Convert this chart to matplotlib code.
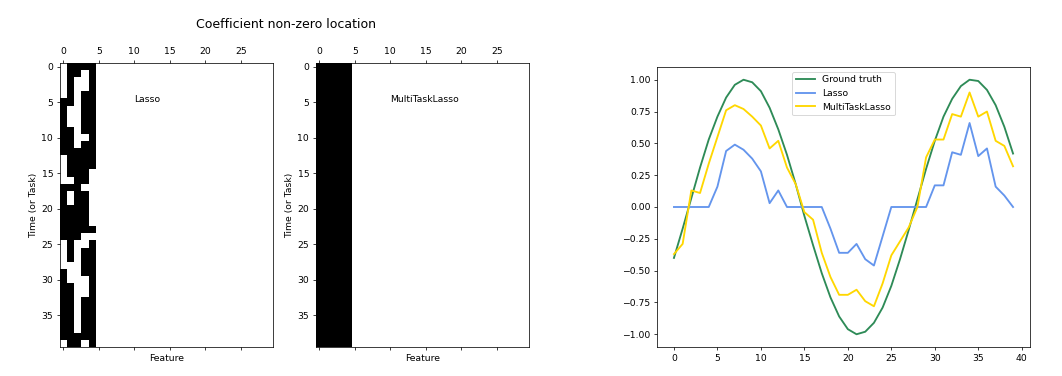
import numpy as np
import matplotlib
matplotlib.use("Agg")
import matplotlib.pyplot as plt

# ---------------- data ----------------
n_tasks = 40
n_features = 30

# non-zero pattern of the first 5 features (rows = tasks), 1 = non-zero
lasso_rows = [
    "01111", "01101", "01001", "01001", "01011",
    "11011", "10011", "10011", "10011", "11011",
    "11001", "11011", "11111", "01111", "01111",
    "01110", "00110", "11100", "10110", "10110",
    "11110", "11110", "11110", "11111", "11100",
    "01001", "01011", "01011", "00011", "10011",
    "10001", "11001", "11001", "11011", "11011",
    "11011", "11011", "11011", "11111", "01101",
]
mtl_rows = ["11111"] * 40

time_idx = list(range(40))
ground_truth = [-0.40, -0.17, 0.07, 0.31, 0.53, 0.71, 0.86, 0.96, 1.00, 0.98,
                0.91, 0.78, 0.61, 0.41, 0.18, -0.07, -0.30, -0.52, -0.71, -0.86,
                -0.96, -1.00, -0.98, -0.91, -0.79, -0.62, -0.41, -0.18, 0.06, 0.30,
                0.52, 0.71, 0.85, 0.95, 1.00, 0.99, 0.92, 0.80, 0.63, 0.42]
lasso_coef = [0.0, 0.0, 0.0, 0.0, 0.0, 0.16, 0.44, 0.49, 0.45, 0.38,
              0.28, 0.03, 0.13, 0.0, 0.0, 0.0, 0.0, 0.0, -0.17, -0.36,
              -0.36, -0.29, -0.41, -0.46, -0.23, 0.0, 0.0, 0.0, 0.0, 0.0,
              0.17, 0.17, 0.43, 0.41, 0.66, 0.40, 0.46, 0.16, 0.09, 0.0]
mtl_coef = [-0.37, -0.29, 0.13, 0.11, 0.34, 0.55, 0.76, 0.80, 0.77, 0.71,
            0.64, 0.46, 0.52, 0.31, 0.18, -0.04, -0.10, -0.36, -0.55, -0.69,
            -0.69, -0.65, -0.74, -0.78, -0.60, -0.38, -0.27, -0.16, 0.00, 0.39,
            0.53, 0.53, 0.73, 0.71, 0.90, 0.71, 0.75, 0.52, 0.48, 0.32]


def build(rows):
    m = np.zeros((n_tasks, n_features))
    for i, r in enumerate(rows):
        for j, c in enumerate(r):
            m[i, j] = int(c)
    return m


coef_lasso = build(lasso_rows)
coef_mtl = build(mtl_rows)

# ---------------- figure ----------------
DPI = 67
W, H = 1062, 376
fig = plt.figure(figsize=(W / DPI, H / DPI), dpi=DPI)


def fx(px):
    return px / W


def fy(py):
    return 1 - py / H


spy_w = 213.5
spy_top, spy_bot = 63, 347
ax1 = fig.add_axes([fx(59.5), fy(spy_bot), fx(spy_w), (spy_bot - spy_top) / H])
ax2 = fig.add_axes([fx(315.5), fy(spy_bot), fx(spy_w), (spy_bot - spy_top) / H])

for ax, m, name in [(ax1, coef_lasso, "Lasso"), (ax2, coef_mtl, "MultiTaskLasso")]:
    ax.spy(m)
    ax.set_xlabel("Feature")
    ax.set_ylabel("Time (or Task)")
    ax.text(10, 5, name)

fig.text(fx(286), fy(25), "Coefficient non-zero location", ha="center",
         va="center", fontsize=13.4)

ax3 = fig.add_axes([fx(657), fy(347), fx(373), (347 - 67) / H])
lw = 2
ax3.plot(time_idx, ground_truth, color="seagreen", linewidth=lw,
         label="Ground truth")
ax3.plot(time_idx, lasso_coef, color="cornflowerblue", linewidth=lw,
         label="Lasso")
ax3.plot(time_idx, mtl_coef, color="gold", linewidth=lw,
         label="MultiTaskLasso")
ax3.legend(loc="upper center")
ax3.set_yticks(np.arange(-1.0, 1.01, 0.25))

fig.savefig("out.png", dpi=DPI)
